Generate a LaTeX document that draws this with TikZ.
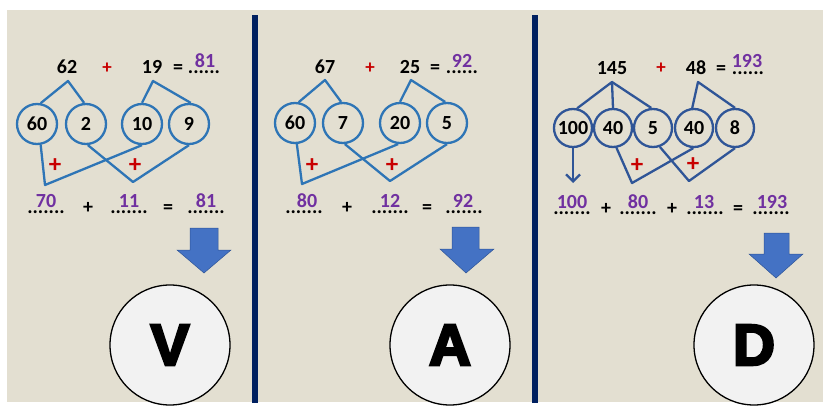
\documentclass[tikz,border=0pt]{standalone}
\usepackage{fontspec}
\setmainfont{Carlito}
\newfontfamily\bigfont{Liberation Sans}[BoldFeatures={FakeBold=4.5}]
\usetikzlibrary{arrows.meta}
\definecolor{bgc}{RGB}{227,223,209}
\definecolor{blueA}{RGB}{46,117,182}
\definecolor{blueB}{RGB}{47,85,151}
\definecolor{purp}{RGB}{112,48,160}
\definecolor{redp}{RGB}{200,0,0}
\definecolor{navy}{RGB}{0,32,96}
\definecolor{arrowfill}{RGB}{68,114,196}
\tikzset{
  num/.style={font=\bfseries\fontsize{20}{24}\selectfont, inner sep=0pt, anchor=base},
  pnum/.style={num, text=purp},
  topplus/.style={font=\bfseries\fontsize{19}{22}\selectfont, text=redp, inner sep=0pt},
  crossplus/.style={font=\bfseries\fontsize{25}{28}\selectfont, text=redp, inner sep=0pt},
  ringA/.style={circle, draw=blueA, line width=2.3pt, minimum size=40pt, inner sep=0pt, font=\bfseries\fontsize{20}{24}\selectfont},
  ringB/.style={circle, draw=blueB, line width=2.3pt, minimum size=38pt, inner sep=0pt, font=\bfseries\fontsize{20}{24}\selectfont},
  linkA/.style={draw=blueA, line width=2.3pt, line join=round},
  linkB/.style={draw=blueB, line width=2.3pt, line join=round},
  bigcirc/.style={circle, draw=black, line width=1.3pt, fill=white!95!black, minimum size=120pt, inner sep=0pt, font=\bigfont\bfseries\fontsize{58}{58}\selectfont},
  sep/.style={draw=navy, line width=6pt},
  downarrow/.style={fill=arrowfill, draw=blueB, line width=0.5pt, line join=miter}
}
\begin{document}
\begin{tikzpicture}[x=1pt,y=-1pt]
\useasboundingbox (0,0) rectangle (823,407);
\fill[bgc] (7,10) rectangle (823,402);

% separators
\draw[sep] (255,15) -- (255,403);
\draw[sep] (535,15) -- (535,403);

%%%%%%%% Panel 1
\node[num] (t62) at (67,73) {62};
\node[topplus] (p1) at (107,68) {+};
\node[num] (t19) at (152,73) {19};
\node[num] (e1) at (178,73) {=};
\node[num] (d1) at (204,73) {......};
\node[pnum] (r1) at (205,67) {81};

\node[ringA] (c60) at (37,124) {60};
\node[ringA] (c2) at (86,124) {2};
\node[ringA] (c10) at (142,124) {10};
\node[ringA] (c9) at (189,124) {9};

\coordinate (a62) at (68,81);
\coordinate (a19) at (153,81);
\coordinate (v1) at (45,185);
\coordinate (v2) at (133,182);
\draw[linkA] (c60.80) -- (a62) -- (c2.95);
\draw[linkA] (c10.90) -- (a19) -- (c9.85);
\draw[linkA] (c60.-80) -- (v1) -- (c10.-90);
\draw[linkA] (c2.-85) -- (v2) -- (c9.-90);
\node[crossplus] (x1) at (55,166) {+};
\node[crossplus] (x2) at (135,166) {+};

\node[num] (bd1) at (46,213) {.......};
\node[pnum] (b70) at (46,207) {70};
\node[num] (bp1) at (88,213) {+};
\node[num] (bd2) at (129,213) {.......};
\node[pnum] (b11) at (129,207) {11};
\node[num] (be1) at (168,213) {=};
\node[num] (bd3) at (206,213) {.......};
\node[pnum] (b81) at (206,207) {81};

\draw[downarrow] (190,228) -- (218,228) -- (218,250) -- (231,250) -- (204,273) -- (177,250) -- (190,250) -- cycle;
\node[bigcirc] (lv) at (170,345) {V};

%%%%%%%% Panel 2
\node[num] (t67) at (325,73) {67};
\node[topplus] (p2) at (370,68) {+};
\node[num] (t25) at (410,73) {25};
\node[num] (e2) at (435,73) {=};
\node[num] (d2) at (462,73) {......};
\node[pnum] (r2) at (462,67) {92};

\node[ringA] (k60) at (295,123) {60};
\node[ringA] (k7) at (343,123) {7};
\node[ringA] (k20) at (400,123) {20};
\node[ringA] (k5) at (447,123) {5};

\coordinate (a67) at (325,80);
\coordinate (a25) at (411,80);
\coordinate (w1) at (302,184);
\coordinate (w2) at (390,181);
\draw[linkA] (k60.80) -- (a67) -- (k7.95);
\draw[linkA] (k20.90) -- (a25) -- (k5.95);
\draw[linkA] (k60.-85) -- (w1) -- (k20.-95);
\draw[linkA] (k7.-85) -- (w2) -- (k5.-90);
\node[crossplus] (x3) at (312,166) {+};
\node[crossplus] (x4) at (392,166) {+};

\node[num] (cd1) at (304,213) {.......};
\node[pnum] (c80) at (307,207) {80};
\node[num] (cp1) at (347,213) {+};
\node[num] (cd2) at (390,213) {.......};
\node[pnum] (c12) at (390,207) {12};
\node[num] (ce1) at (427,213) {=};
\node[num] (cd3) at (464,213) {.......};
\node[pnum] (c92) at (463,207) {92};

\draw[downarrow] (452,227) -- (479,227) -- (479,249) -- (494,249) -- (466,273) -- (440,249) -- (452,249) -- cycle;
\node[bigcirc] (la) at (450,345) {A};

%%%%%%%% Panel 3
\node[num] (t145) at (612,74) {145};
\node[topplus] (p3) at (661,68) {+};
\node[num] (t48) at (696,74) {48};
\node[num] (e3) at (721,74) {=};
\node[num] (d3) at (748,74) {......};
\node[pnum] (r3) at (747,67) {193};

\node[ringB] (m100) at (573,128) {100};
\node[ringB] (m40) at (613,128) {40};
\node[ringB] (m5) at (653,128) {5};
\node[ringB] (n40) at (694,128) {40};
\node[ringB] (m8) at (735,128) {8};

\coordinate (a145) at (612,82);
\coordinate (a48) at (698,82);
\coordinate (u1) at (632,183);
\coordinate (u2) at (689,181);
\coordinate (h100) at (573,183);
\draw[linkB] (m100.78) -- (a145) -- (m40.90);
\draw[linkB] (a145) -- (m5.95);
\draw[linkB] (n40.95) -- (a48) -- (m8.90);
\draw[linkB] (m40.-80) -- (u1) -- (n40.-92);
\draw[linkB] (m5.-70) -- (u2) -- (m8.-90);
\draw[linkB, -{Straight Barb[length=7pt,width=14pt]}] (m100.south) -- (h100);
\node[crossplus] (x5) at (637,166) {+};
\node[crossplus] (x6) at (693,165) {+};

\node[num] (fd1) at (572,214) {.......};
\node[pnum] (f100) at (572,208) {100};
\node[num] (fp1) at (606,214) {+};
\node[num] (fd2) at (638,214) {.......};
\node[pnum] (f80) at (638,208) {80};
\node[num] (fp2) at (672,214) {+};
\node[num] (fd3) at (705,214) {.......};
\node[pnum] (f13) at (704,208) {13};
\node[num] (fe1) at (738,214) {=};
\node[num] (fd4) at (771,214) {.......};
\node[pnum] (f193) at (772,208) {193};

\draw[downarrow] (764,233) -- (789,233) -- (789,254) -- (803,254) -- (776,278) -- (749,254) -- (764,254) -- cycle;
\node[bigcirc] (ld) at (754,345) {D};
\end{tikzpicture}
\end{document}
